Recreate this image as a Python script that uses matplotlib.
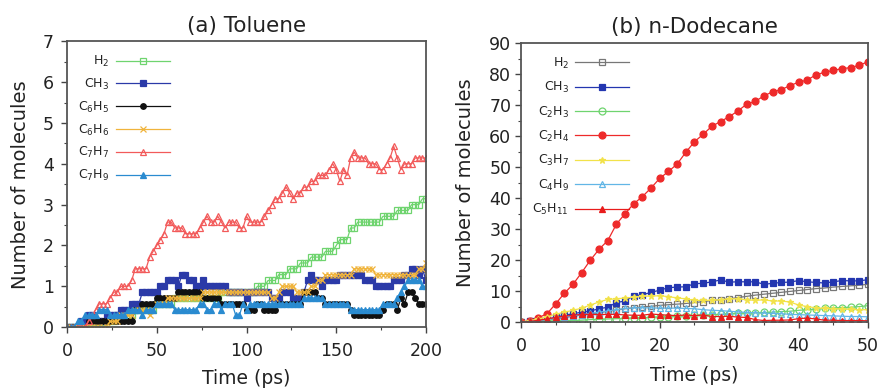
import numpy as np
import matplotlib
matplotlib.use("Agg")
import matplotlib.pyplot as plt
from matplotlib.ticker import MultipleLocator

# ---- (a) Toluene: sampled every 2 ps, values read as counts of 1/7 molecule
tol_time = np.arange(0, 201, 2)

tol_h2 = [0, 0, 0, 0, 0, 0, 0, 0, 0, 0, 0,
          1, 1, 1, 2, 2, 2, 2, 2, 3, 3,
          3, 3, 3, 3, 4, 4, 4, 4, 4, 5,
          5, 5, 5, 5, 5, 5, 5, 5, 5, 5,
          5, 5, 6, 6, 6, 6, 6, 6, 6, 6,
          6, 6, 7, 7, 7, 8, 8, 8, 9, 9,
          9, 10, 10, 10, 11, 11, 11, 12, 12, 12,
          12, 13, 13, 13, 14, 15, 15, 15, 17, 17,
          18, 18, 18, 18, 18, 18, 18, 19, 19, 19,
          19, 20, 20, 20, 20, 21, 21, 21, 22, 22]
tol_ch3 = [0, 0, 0, 0, 1, 1, 2, 2, 1, 1,
           1, 2, 2, 2, 2, 3, 3, 3, 4, 4,
           4, 6, 6, 6, 6, 6, 7, 7, 8, 8,
           8, 7, 9, 9, 8, 8, 7, 7, 8, 7,
           7, 7, 7, 7, 7, 6, 6, 6, 6, 6,
           5, 6, 6, 6, 6, 6, 6, 5, 5, 5,
           6, 6, 6, 5, 5, 5, 6, 8, 9, 8,
           8, 7, 8, 8, 8, 8, 9, 9, 9, 9,
           9, 9, 9, 8, 8, 8, 7, 7, 7, 7,
           7, 8, 8, 8, 9, 9, 10, 10, 9, 10,
           8]
tol_c6h5 = [0, 0, 0, 0, 0, 0, 1, 1, 1, 1,
            1, 1, 1, 1, 1, 1, 1, 1, 1, 3,
            3, 4, 4, 4, 4, 5, 5, 5, 5, 5,
            5, 6, 6, 6, 6, 6, 6, 6, 5, 5,
            5, 5, 5, 4, 4, 4, 4, 4, 4, 4,
            3, 3, 3, 4, 4, 3, 3, 3, 3, 4,
            4, 4, 4, 4, 4, 4, 6, 6, 6, 6,
            5, 5, 4, 4, 4, 4, 4, 4, 4, 3,
            2, 2, 2, 2, 2, 2, 2, 2, 3, 4,
            4, 4, 3, 5, 4, 6, 6, 5, 4, 4,
            4]
tol_c6h6 = [0, 0, 0, 0, 0, 0, 0, 0, 0, 0,
            0, 0, 1, 1, 1, 2, 2, 2, 2, 3,
            3, 3, 3, 2, 3, 4, 4, 4, 5, 5,
            5, 5, 5, 5, 5, 5, 5, 5, 6, 6,
            6, 6, 6, 6, 6, 6, 6, 6, 6, 6,
            6, 6, 6, 6, 6, 6, 6, 5, 5, 6,
            7, 7, 7, 7, 6, 6, 6, 6, 7, 7,
            8, 8, 9, 9, 9, 9, 9, 9, 9, 9,
            10, 10, 10, 10, 10, 10, 9, 9, 9, 9,
            9, 9, 9, 9, 9, 9, 9, 9, 10, 10,
            11]
tol_c7h7 = [0, 0, 0, 0, 0, 0,
            1, 2, 3, 4, 4, 4, 5, 6, 6, 7,
            7, 7, 8, 10, 10, 10, 10, 12, 13, 14,
            15, 16, 18, 18, 17, 17, 17, 16, 16, 16,
            16, 17, 18, 19, 18, 18, 19, 18, 17, 18,
            18, 18, 17, 17, 19, 18, 18, 18, 18, 19,
            20, 21, 22, 22, 23, 24, 23, 22, 23, 23,
            24, 24, 25, 25, 26, 26, 26, 27, 28, 27,
            25, 27, 26, 29, 30, 29, 29, 29, 28, 28,
            28, 27, 27, 28, 29, 31, 29, 27, 28, 28,
            28, 29, 29, 29, 29]
tol_c7h9 = [0, 0, 0, 1, 1, 2, 2, 2, 2, 3,
            3, 3, 2, 2, 2, 2, 2, 3, 3, 3,
            3, 2, 3, 3, 3, 4, 4, 4, 4, 4,
            3, 3, 3, 3, 3, 3, 3, 4, 4, 3,
            3, 4, 4, 3, 4, 4, 4, 2, 2, 4,
            3, 4, 4, 4, 4, 4, 4, 4, 4, 4,
            4, 4, 4, 4, 4, 4, 5, 5, 5, 5,
            5, 5, 4, 4, 4, 4, 4, 4, 4, 3,
            3, 3, 3, 3, 3, 3, 3, 3, 4, 4,
            4, 4, 5, 6, 7, 8, 8, 8, 8, 7,
            7]

# ---- (b) n-Dodecane: sampled every 1.25 ps
dod_time = np.linspace(0, 50, 41)

dod_h2 = [0, 0.2, 0.5, 0.8, 1.1, 1.5, 1.9, 2.3, 2.6, 3.0,
          3.5, 3.9, 4.3, 4.6, 4.9, 5.1, 5.4, 5.6, 5.8, 6.0,
          6.3, 6.6, 7.0, 7.2, 7.5, 7.9, 8.3, 8.7, 9.0, 9.3,
          9.6, 9.9, 10.2, 10.5, 10.8, 11.0, 11.3, 11.5, 11.7, 11.9, 12.2]
dod_ch3 = [0, 0.3, 0.6, 0.9, 1.5, 2.2, 2.7, 3.2, 3.6, 4.3,
           4.8, 6.3, 6.8, 8.5, 8.8, 9.6, 10.3, 11.1, 11.3, 11.4,
           12.4, 12.5, 13.0, 13.6, 12.9, 13.0, 13.0, 13.0, 12.2, 12.5,
           12.8, 12.9, 13.4, 13.0, 12.8, 12.6, 13.0, 13.4, 13.3, 13.3, 13.7]
dod_c2h3 = [0, 0.1, 0.2, 0.3, 0.4, 0.5, 0.5, 0.6, 0.8, 0.9,
            1.0, 1.1, 1.2, 1.3, 1.4, 1.5, 1.7, 1.8, 1.9, 2.0,
            2.2, 2.3, 2.4, 2.5, 2.7, 2.8, 2.9, 3.0, 3.1, 3.2,
            3.4, 3.5, 3.8, 4.0, 4.2, 4.4, 4.6, 4.7, 4.8, 5.0, 5.3]
dod_c2h4 = [0, 0.2, 1.4, 2.7, 5.9, 9.3, 12.2, 16.0, 20.0, 23.5,
            26.3, 31.6, 35.0, 38.2, 40.5, 43.3, 46.4, 48.6, 51.0, 54.8,
            58.2, 60.6, 63.2, 64.7, 66.3, 68.1, 70.3, 71.2, 73.0, 74.3,
            75.0, 76.3, 77.4, 78.1, 79.8, 80.6, 81.2, 81.8, 82.1, 82.9, 84.0]
dod_c3h7 = [0, 0.5, 1.0, 1.7, 2.5, 3.2, 3.8, 4.5, 5.5, 6.5,
            7.3, 7.5, 7.8, 8.0, 8.3, 8.4, 8.5, 8.2, 7.8, 7.5,
            7.0, 7.0, 7.0, 7.2, 7.5, 7.5, 7.2, 7.0, 7.2, 6.8,
            6.8, 6.5, 5.5, 5.0, 4.6, 4.4, 4.3, 4.2, 4.1, 4.0, 4.0]
dod_c4h9 = [0, 0.2, 0.5, 0.8, 1.2, 1.6, 2.0, 2.4, 2.8, 3.2,
            3.6, 4.0, 4.4, 4.6, 4.6, 4.6, 4.5, 4.5, 4.5, 4.4,
            4.3, 4.0, 3.8, 3.7, 3.5, 3.3, 3.1, 3.0, 2.9, 2.8,
            2.7, 2.5, 2.4, 2.3, 2.2, 2.1, 2.0, 1.9, 1.8, 1.8, 1.7]
dod_c5h11 = [0, 0.2, 0.6, 1.0, 1.5, 1.9, 2.2, 2.5, 2.5, 2.4,
             2.5, 2.5, 2.3, 2.2, 2.2, 2.6, 2.4, 2.2, 2.1, 2.3,
             2.1, 2.3, 1.8, 1.8, 1.9, 1.6, 1.5, 0.8, 0.5, 0.6,
             0.6, 0.7, 1.1, 1.3, 1.0, 0.6, 0.6, 0.5, 0.5, 0.5, 0.4]

TXT = "#222222"
plt.rcParams["font.family"] = "DejaVu Sans"
plt.rcParams["text.color"] = TXT
plt.rcParams["axes.labelcolor"] = TXT
plt.rcParams["xtick.color"] = "#444444"
plt.rcParams["ytick.color"] = "#444444"
plt.rcParams["xtick.labelcolor"] = TXT
plt.rcParams["ytick.labelcolor"] = TXT

fig = plt.figure(figsize=(8.82, 3.89), dpi=100)
ax1 = fig.add_axes([0.076, 0.159, 0.407, 0.735])
ax2 = fig.add_axes([0.5907, 0.172, 0.3934, 0.717])

# left panel series
tol_series = [
    (r"H$_2$", tol_h2, "#6fd46f", "s", "none"),
    (r"CH$_3$", tol_ch3, "#2b3aa8", "s", None),
    (r"C$_6$H$_5$", tol_c6h5, "#111111", "o", None),
    (r"C$_6$H$_6$", tol_c6h6, "#f0b43c", "x", None),
    (r"C$_7$H$_7$", tol_c7h7, "#f25a5a", "^", "none"),
    (r"C$_7$H$_9$", tol_c7h9, "#2a8bd0", "^", None),
]
for name, vals, col, mk, mfc in tol_series:
    kw = dict(color=col, marker=mk, markersize=4, linewidth=0.9, label=name,
              markeredgewidth=0.9)
    if mfc == "none":
        kw["markerfacecolor"] = "none"
    ax1.plot(tol_time, np.array(vals) / 7.0, **kw)

# right panel series
dod_series = [
    (r"H$_2$", dod_h2, "#777777", "s", "none"),
    (r"CH$_3$", dod_ch3, "#2336b0", "s", None),
    (r"C$_2$H$_3$", dod_c2h3, "#6fd46f", "o", "none"),
    (r"C$_2$H$_4$", dod_c2h4, "#ee2a2a", "o", None),
    (r"C$_3$H$_7$", dod_c3h7, "#f2e24a", "*", None),
    (r"C$_4$H$_9$", dod_c4h9, "#62b6e6", "^", "none"),
    (r"C$_5$H$_{11}$", dod_c5h11, "#e81c1c", "^", None),
]
for name, vals, col, mk, mfc in dod_series:
    kw = dict(color=col, marker=mk, markersize=5, linewidth=0.9, label=name,
              markeredgewidth=0.9)
    if mfc == "none":
        kw["markerfacecolor"] = "none"
    ax2.plot(dod_time, vals, **kw)

for ax, spacing in ((ax1, 0.62), (ax2, 0.74)):
    for sp in ax.spines.values():
        sp.set_color("#555555")
        sp.set_linewidth(1.3)
    ax.tick_params(which="major", direction="out", length=4, width=1,
                   labelsize=12.5, top=False, right=False)
    ax.tick_params(which="minor", direction="out", length=2.5, width=0.8,
                   top=False, right=False)
    ax.legend(loc="upper left", frameon=False, markerfirst=False,
              fontsize=9, handlelength=4.3, labelspacing=spacing,
              handletextpad=0.5, borderaxespad=0.5,
              bbox_to_anchor=(0.0, 0.995))

ax1.set_xlim(0, 200)
ax1.set_ylim(0, 7)
ax1.xaxis.set_major_locator(MultipleLocator(50))
ax1.xaxis.set_minor_locator(MultipleLocator(25))
ax1.yaxis.set_major_locator(MultipleLocator(1))
ax1.yaxis.set_minor_locator(MultipleLocator(0.5))
ax1.tick_params(axis="x", which="major", pad=7)
ax1.tick_params(axis="y", which="major", pad=5.5)
ax1.set_title("(a) Toluene", fontsize=15.5, pad=7)
ax1.set_xlabel("Time (ps)", fontsize=13.5, labelpad=6)
ax1.set_ylabel("Number of molecules", fontsize=14, labelpad=9)

ax2.set_xlim(0, 50)
ax2.set_ylim(0, 90)
ax2.xaxis.set_major_locator(MultipleLocator(10))
ax2.xaxis.set_minor_locator(MultipleLocator(5))
ax2.yaxis.set_major_locator(MultipleLocator(10))
ax2.yaxis.set_minor_locator(MultipleLocator(5))
ax2.tick_params(axis="x", which="major", pad=6.5)
ax2.tick_params(axis="y", which="major", pad=3)
ax2.set_title("(b) n-Dodecane", fontsize=15.5, pad=7)
ax2.set_xlabel("Time (ps)", fontsize=13.5, labelpad=8)
ax2.set_ylabel("Number of molecules", fontsize=14, labelpad=10)

fig.savefig("out.png", dpi=100)
